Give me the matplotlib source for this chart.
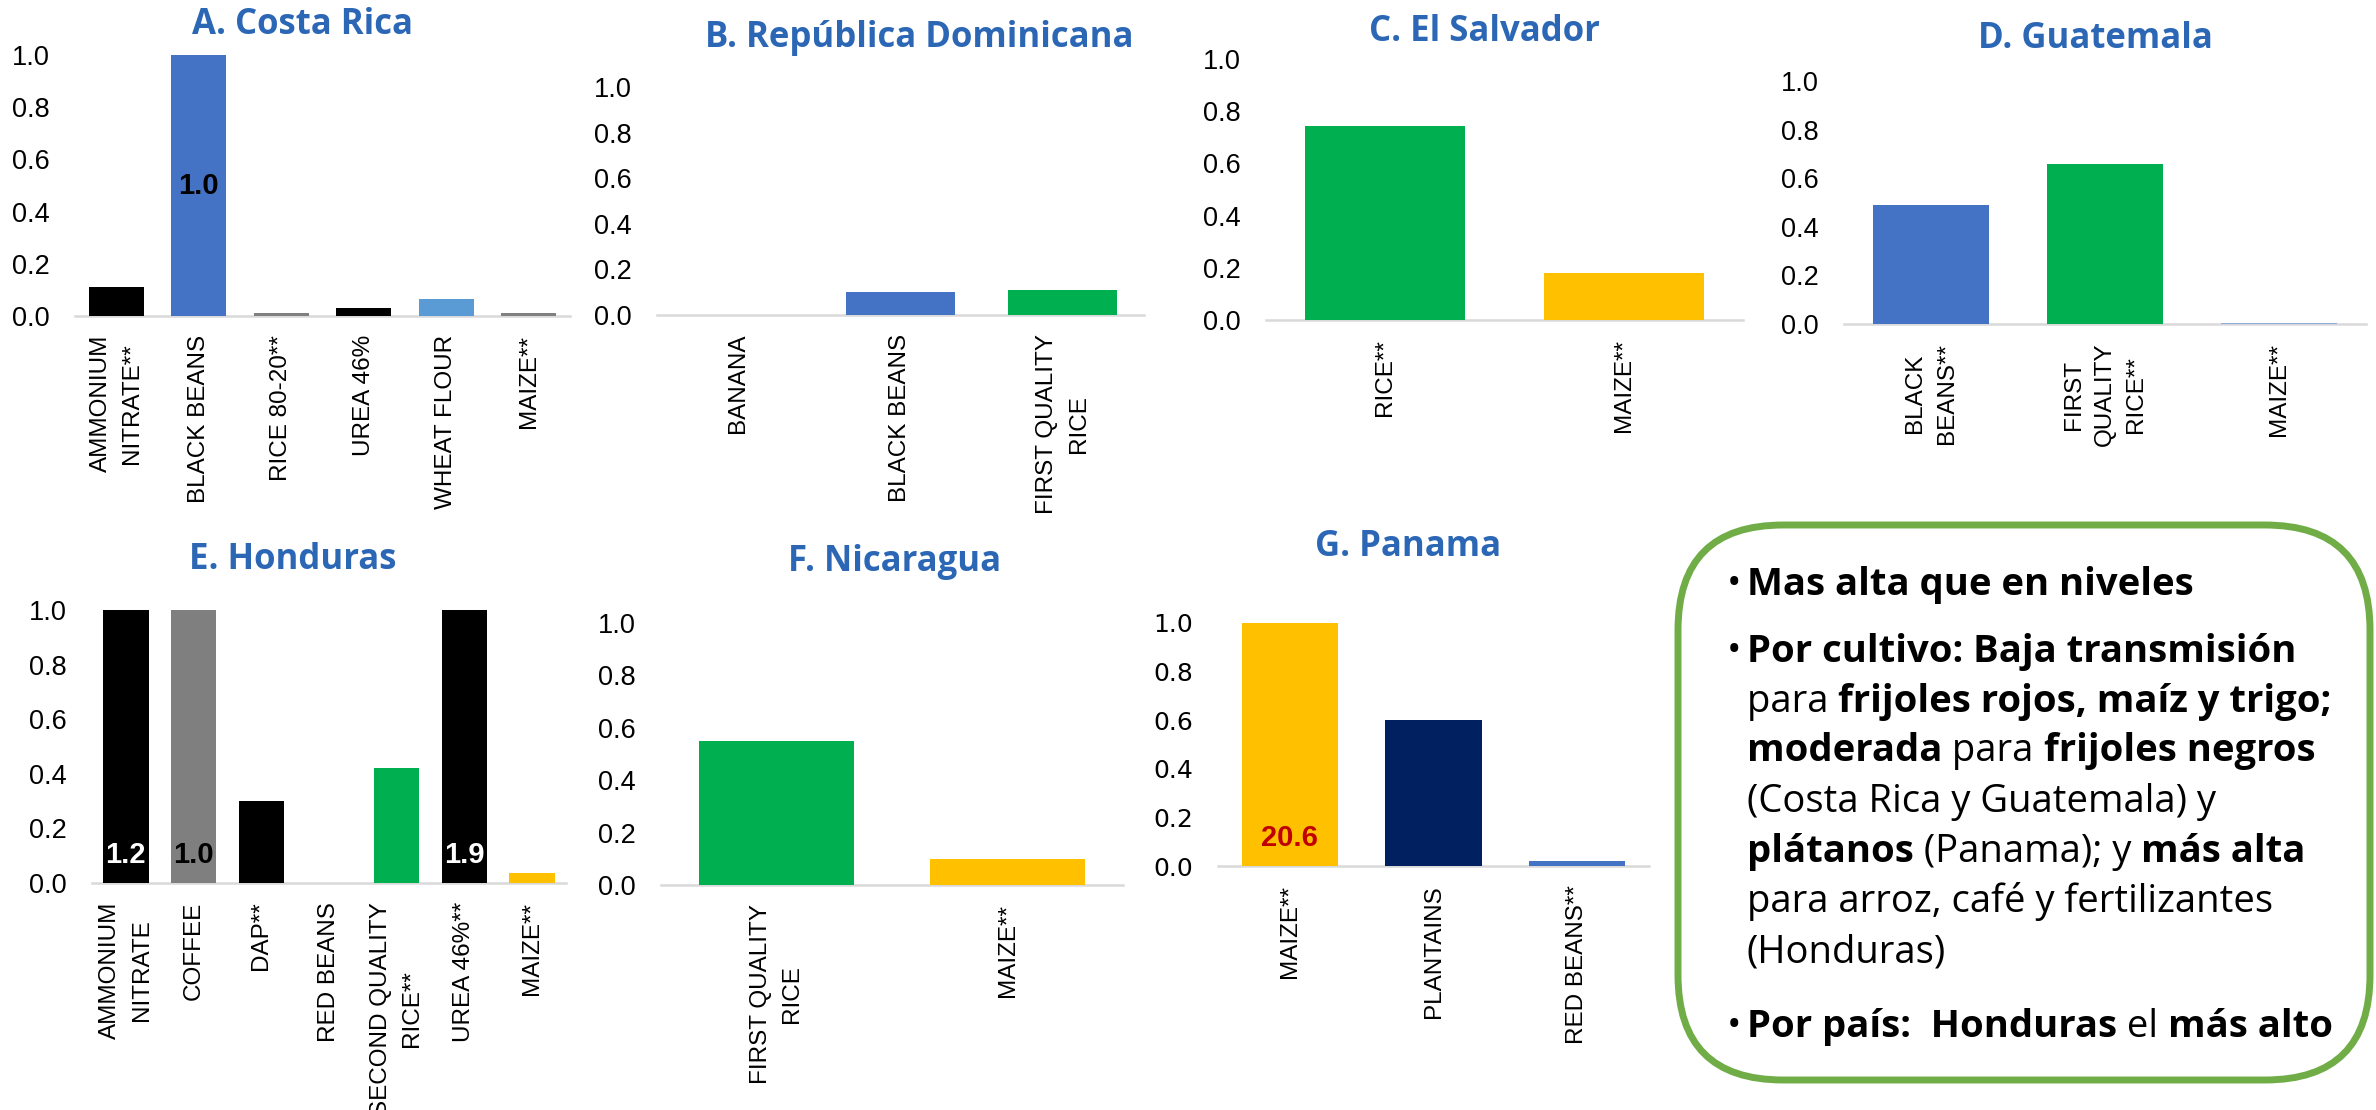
import numpy as np
import matplotlib
matplotlib.use("Agg")
import matplotlib.pyplot as plt
from matplotlib.patches import FancyBboxPatch
from matplotlib.ticker import FormatStrFormatter

W, H, DPI = 2376, 1110, 100

BLACK = "#000000"
BLUE = "#4472C4"
GREEN = "#00B050"
GOLD = "#FFC000"
GREY = "#808080"
LIGHT_BLUE = "#5B9BD5"
PALE_BLUE = "#8EA9DB"
NAVY = "#002060"
TITLE_BLUE = "#2B67B5"
AXIS_GREY = "#D9D9D9"
BOX_GREEN = "#70AD47"

TICK_FONT = ["Liberation Sans", "DejaVu Sans"]
HEAD_FONT = ["Open Sans", "DejaVu Sans"]

# ---- data -------------------------------------------------------------
cr_items = ["AMMONIUM\nNITRATE**", "BLACK BEANS", "RICE 80-20**", "UREA 46%",
            "WHEAT FLOUR", "MAIZE**"]
cr_values = [0.11, 1.0, 0.01, 0.03, 0.065, 0.01]
cr_colors = [BLACK, BLUE, GREY, BLACK, LIGHT_BLUE, GREY]

do_items = ["BANANA", "BLACK BEANS", "FIRST QUALITY\nRICE"]
do_values = [0.0, 0.10, 0.11]
do_colors = [GREY, BLUE, GREEN]

sv_items = ["RICE**", "MAIZE**"]
sv_values = [0.745, 0.18]
sv_colors = [GREEN, GOLD]

gt_items = ["BLACK\nBEANS**", "FIRST\nQUALITY\nRICE**", "MAIZE**"]
gt_values = [0.49, 0.66, 0.005]
gt_colors = [BLUE, GREEN, PALE_BLUE]

hn_items = ["AMMONIUM\nNITRATE", "COFFEE", "DAP**", "RED BEANS",
            "SECOND QUALITY\nRICE**", "UREA 46%**", "MAIZE**"]
hn_values = [1.2, 1.0, 0.30, 0.0, 0.42, 1.9, 0.035]
hn_colors = [BLACK, "#7F7F7F", BLACK, BLACK, GREEN, BLACK, GOLD]

ni_items = ["FIRST QUALITY\nRICE", "MAIZE**"]
ni_values = [0.55, 0.10]
ni_colors = [GREEN, GOLD]

pa_items = ["MAIZE**", "PLANTAINS", "RED BEANS**"]
pa_values = [20.6, 0.60, 0.02]
pa_colors = [GOLD, NAVY, BLUE]

y_ticks = [0.0, 0.2, 0.4, 0.6, 0.8, 1.0]

# panel layout: axes box in pixels (left, top, right, bottom) and title centre
panels = [
    dict(title="A. Costa Rica", items=cr_items, values=cr_values, colors=cr_colors,
         rect=(75, 55, 570, 316), head=(303, 25),
         labels={1: (BLACK, "center")}),
    dict(title="B. República Dominicana", items=do_items, values=do_values, colors=do_colors,
         rect=(657, 87, 1144, 315), head=(919, 38), labels={}),
    dict(title="C. El Salvador", items=sv_items, values=sv_values, colors=sv_colors,
         rect=(1266, 59, 1743, 320), head=(1484, 32), labels={}),
    dict(title="D. Guatemala", items=gt_items, values=gt_values, colors=gt_colors,
         rect=(1844, 81, 2366, 324), head=(2095, 39), labels={}),
    dict(title="E. Honduras", items=hn_items, values=hn_values, colors=hn_colors,
         rect=(92, 610, 566, 883), head=(293, 560),
         labels={0: ("white", "base"), 1: (BLACK, "base"), 5: ("white", "base")}),
    dict(title="F. Nicaragua", items=ni_items, values=ni_values, colors=ni_colors,
         rect=(661, 623, 1123, 885), head=(895, 562), labels={}),
    dict(title="G. Panama", items=pa_items, values=pa_values, colors=pa_colors,
         rect=(1218, 623, 1649, 866), head=(1408, 547),
         labels={0: ("#C00000", "base")}, tickfont=["DejaVu Sans"], ticksize=18),
]

fig = plt.figure(figsize=(W / DPI, H / DPI), dpi=DPI)
fig.patch.set_facecolor("white")


def add_panel(p):
    l, t, r, b = p["rect"]
    ax = fig.add_axes([l / W, 1 - b / H, (r - l) / W, (b - t) / H])
    n = len(p["items"])
    x = np.arange(n)
    ax.bar(x, p["values"], width=0.67, color=p["colors"], zorder=2)
    ax.set_xlim(-0.5, n - 0.5)
    ax.set_ylim(0, 1)
    for side in ("top", "left", "right"):
        ax.spines[side].set_visible(False)
    ax.spines["bottom"].set_color(AXIS_GREY)
    ax.spines["bottom"].set_linewidth(1.8)
    ax.spines["bottom"].set_zorder(1)

    ax.set_yticks(y_ticks)
    ax.yaxis.set_major_formatter(FormatStrFormatter("%.1f"))
    ax.tick_params(axis="y", length=0, pad=18, labelsize=p.get("ticksize", 19.5))
    for lab in ax.get_yticklabels():
        lab.set_family(p.get("tickfont", TICK_FONT))

    ax.set_xticks(x)
    ax.set_xticklabels(p["items"], rotation=90, ha="center", va="top",
                       multialignment="center", fontsize=17.5, family=TICK_FONT,
                       linespacing=1.55)
    ax.tick_params(axis="x", length=0, pad=13.5)

    for idx, (col, where) in p["labels"].items():
        v = p["values"][idx]
        txt = f"{v:.1f}"
        if where == "center":
            ax.text(idx, min(v, 1.0) / 2, txt, ha="center", va="center",
                    fontsize=21, fontweight="bold", color=col, family=TICK_FONT,
                    zorder=3)
        else:
            ax.annotate(txt, xy=(idx, 0), xytext=(0, 28), textcoords="offset pixels",
                        ha="center", va="center", fontsize=21, fontweight="bold",
                        color=col, family=TICK_FONT, zorder=3)

    cx, cy = p["head"]
    fig.text(cx / W, 1 - cy / H, p["title"], ha="center", va="center",
             fontsize=25, fontweight="bold", color=TITLE_BLUE, family=HEAD_FONT)


for p in panels:
    add_panel(p)

# ---- summary box ------------------------------------------------------
ov = fig.add_axes([0, 0, 1, 1])
ov.set_xlim(0, W)
ov.set_ylim(H, 0)
ov.set_axis_off()

box = FancyBboxPatch((1678, 525), 692, 555,
                     boxstyle="round,pad=0,rounding_size=105",
                     linewidth=5, edgecolor=BOX_GREEN, facecolor="white", zorder=1)
ov.add_patch(box)

BOX_SIZE = 27.5
renderer = fig.canvas.get_renderer()


def run_width(text, bold):
    """Advance width of a text run in pixels, including any edge spaces."""
    kw = dict(fontsize=BOX_SIZE, family=HEAD_FONT,
              fontweight="bold" if bold else "normal")
    a = ov.text(0, 0, "|" + text + "|", **kw)
    b = ov.text(0, 0, "||", **kw)
    w = a.get_window_extent(renderer).width - b.get_window_extent(renderer).width
    a.remove()
    b.remove()
    return w


def draw_line(x, y, runs):
    for text, bold in runs:
        ov.text(x, y, text, ha="left", va="baseline", fontsize=BOX_SIZE,
                family=HEAD_FONT, fontweight="bold" if bold else "normal",
                color="black", zorder=3)
        x += run_width(text, bold)


TEXT_X = 1747
BULLET_X = 1727
box_lines = [
    (595, True, [("Mas alta que en niveles", True)]),
    (662, True, [("Por cultivo: Baja transmisión", True)]),
    (712, False, [("para ", False), ("frijoles rojos, maíz y trigo;", True)]),
    (761, False, [("moderada", True), (" para ", False), ("frijoles negros", True)]),
    (812, False, [("(Costa Rica y Guatemala) y", False)]),
    (862, False, [("plátanos", True), (" (Panama); y ", False), ("más alta", True)]),
    (912, False, [("para arroz, café y fertilizantes", False)]),
    (963, False, [("(Honduras)", False)]),
    (1037, True, [("Por país:  Honduras", True), (" el ", False), ("más alto", True)]),
]

for y, bullet, runs in box_lines:
    if bullet:
        ov.text(BULLET_X, y, "•", ha="left", va="baseline", fontsize=BOX_SIZE,
                family=HEAD_FONT, color="black", zorder=3)
    draw_line(TEXT_X, y, runs)

fig.savefig("out.png", dpi=DPI, facecolor="white")
